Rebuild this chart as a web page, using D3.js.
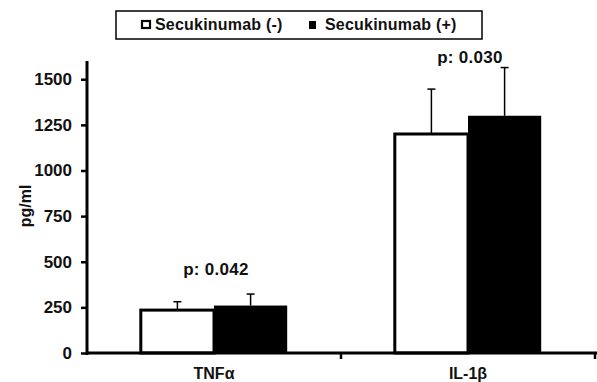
<!DOCTYPE html>
<html>
<head>
<meta charset="utf-8">
<script src="https://cdn.jsdelivr.net/npm/d3@7"></script>
<style>
  body { margin: 0; background: #fff; }
  svg { display: block; font-family: "Liberation Sans", Arial, sans-serif; font-weight: bold; }
</style>
</head>
<body>
<svg id="chart" width="597" height="382"></svg>
<script>
// --- data ---
const categories = ["TNFα", "IL-1β"];
const groups = ["Secukinumab (-)", "Secukinumab (+)"];
const meanNeg = [235, 1200];
const meanPos = [260, 1300];
const errNeg = [46, 246];
const errPos = [63, 264];
const pLabels = ["p: 0.042", "p: 0.030"];
const pLabelAt = [427, 1588];   // label baseline, in pg/ml
const yTicks = [0, 250, 500, 750, 1000, 1250, 1500];

const svg = d3.select("#chart");
const margin = { top: 61, right: 0, bottom: 29, left: 87 };
const W = 597, H = 382;
const plotBottom = 353;

const x0 = d3.scaleBand().domain(categories).range([margin.left, W - 2]).padding(0);
const x1 = d3.scaleBand().domain(groups).range([0, x0.bandwidth()]).paddingInner(0).paddingOuter(0.735);
const y = d3.scaleLinear().domain([0, 1600]).range([plotBottom, margin.top]);

const rows = categories.map((c, i) => ({
    cat: c,
    bars: [
        { g: groups[0], v: meanNeg[i], e: errNeg[i] },
        { g: groups[1], v: meanPos[i], e: errPos[i] }
    ]
}));

const gCat = svg.selectAll(".cat").data(rows).join("g")
    .attr("class", "cat")
    .attr("transform", d => `translate(${x0(d.cat)},0)`);

// bars
gCat.selectAll("rect").data(d => d.bars).join("rect")
    .attr("x", d => x1(d.g))
    .attr("y", d => y(d.v))
    .attr("width", x1.bandwidth())
    .attr("height", d => y(0) - y(d.v))
    .attr("fill", d => d.g === groups[0] ? "#fff" : "#000")
    .attr("stroke", "#000")
    .attr("stroke-width", d => d.g === groups[0] ? 3 : 0);

// error bars (upward only)
gCat.selectAll(".err").data(d => d.bars).join("g").attr("class", "err")
    .each(function (d) {
        const cx = x1(d.g) + x1.bandwidth() / 2;
        const g = d3.select(this);
        g.append("line").attr("x1", cx).attr("x2", cx)
            .attr("y1", y(d.v)).attr("y2", y(d.v + d.e))
            .attr("stroke", "#000").attr("stroke-width", 1.5);
        g.append("line").attr("x1", cx - 4).attr("x2", cx + 4)
            .attr("y1", y(d.v + d.e)).attr("y2", y(d.v + d.e))
            .attr("stroke", "#000").attr("stroke-width", 1.5);
    });

// p labels
gCat.append("text")
    .attr("x", x0.bandwidth() / 2 + 2)
    .attr("y", (d, i) => y(pLabelAt[i]))
    .attr("text-anchor", "middle")
    .attr("font-size", 17)
    .attr("letter-spacing", 0.3)
    .attr("fill", "#111")
    .text((d, i) => pLabels[i]);

// y axis
const yAxis = svg.append("g")
    .attr("transform", `translate(${margin.left},0)`)
    .call(d3.axisLeft(y).tickValues(yTicks).tickSize(6).tickPadding(9).tickFormat(d3.format("d")));
yAxis.select(".domain").attr("d", `M0,${margin.top}V${plotBottom + 2}`).attr("stroke-width", 3);
yAxis.selectAll(".tick line").attr("stroke-width", 2.5);
yAxis.selectAll(".tick text").attr("font-size", 17).attr("font-family", null).attr("fill", "#111");

// x axis
const xAxis = svg.append("g")
    .attr("transform", `translate(0,${plotBottom})`)
    .call(d3.axisBottom(x0).tickSize(0).tickPadding(15));
xAxis.select(".domain").attr("d", `M${margin.left},0H${W}`).attr("stroke-width", 3);
xAxis.selectAll(".tick text").attr("font-size", 16).attr("font-family", null).attr("fill", "#111");
xAxis.selectAll(".sep").data(categories).join("line").attr("class", "sep")
    .attr("x1", d => x0(d) + x0.bandwidth()).attr("x2", d => x0(d) + x0.bandwidth())
    .attr("y1", 0).attr("y2", 6)
    .attr("stroke", "#000").attr("stroke-width", 2.5);

// y title
svg.append("text")
    .attr("transform", `translate(31,206) rotate(-90)`)
    .attr("text-anchor", "middle")
    .attr("font-size", 16)
    .attr("fill", "#111")
    .text("pg/ml");

// legend
const legend = svg.append("g");
legend.append("rect")
    .attr("x", 116).attr("y", 11).attr("width", 366).attr("height", 28)
    .attr("fill", "#fff").attr("stroke", "#000").attr("stroke-width", 1.5);
const legendX = [141, 309];
groups.forEach((g, i) => {
    const it = legend.append("g").attr("transform", `translate(${legendX[i]},0)`);
    if (i === 0) {
        it.append("rect").attr("x", 1).attr("y", 21).attr("width", 8).attr("height", 7)
            .attr("fill", "#fff").attr("stroke", "#000").attr("stroke-width", 2.2);
    } else {
        it.append("rect").attr("x", 0).attr("y", 21).attr("width", 7).attr("height", 8)
            .attr("fill", "#000");
    }
    it.append("text")
        .attr("x", i === 0 ? 14 : 16).attr("y", 30)
        .attr("font-size", 16)
        .attr("letter-spacing", 0.2)
        .attr("fill", "#111")
        .text(g);
});
</script>
</body>
</html>
